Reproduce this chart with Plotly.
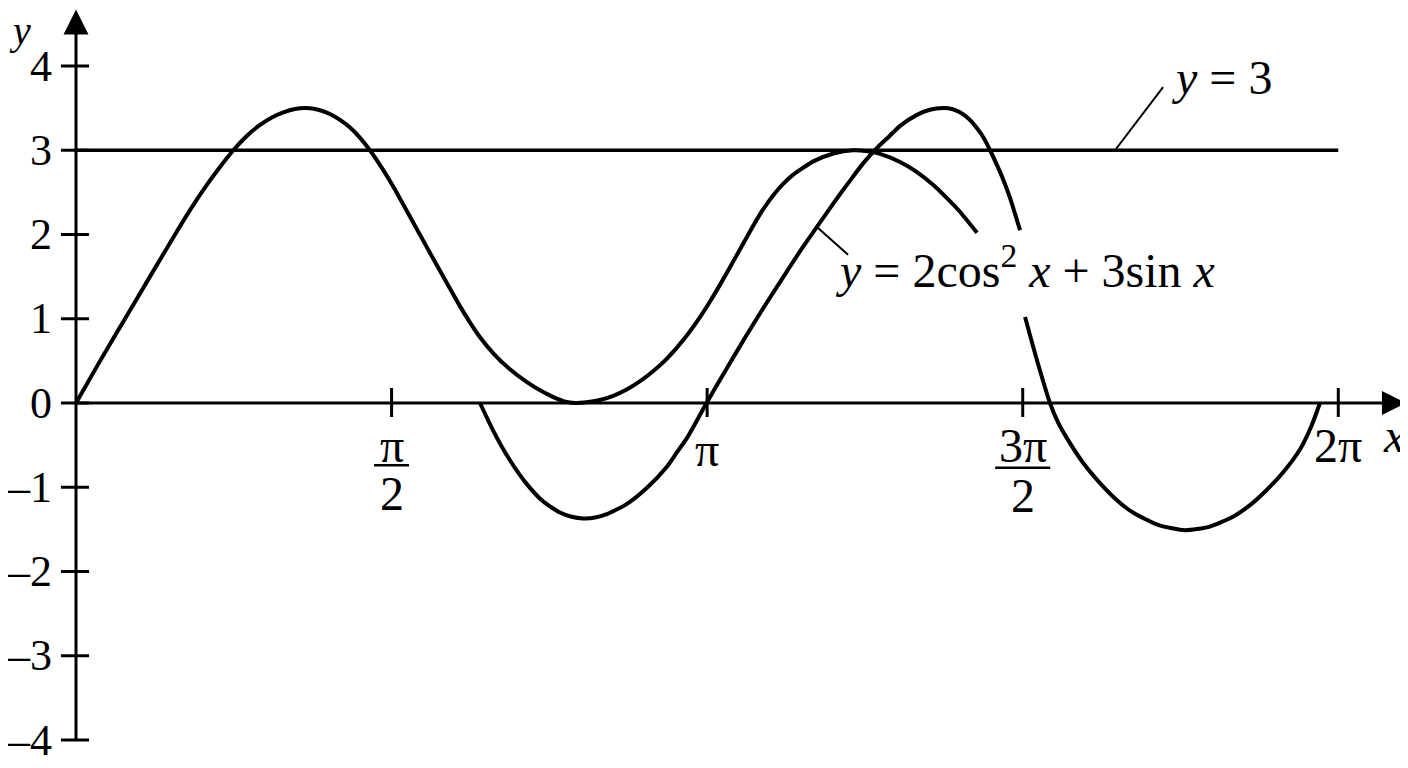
import plotly.graph_objects as go

# curve values (x in radians)
curve_a_x = [0, 0.12, 0.244, 0.368, 0.493, 0.565, 0.634, 0.71, 0.783, 0.85, 0.916, 0.975,
             1.032, 1.09, 1.148, 1.206, 1.264, 1.314, 1.364, 1.413, 1.463, 1.52, 1.579,
             1.679, 1.795, 1.911, 1.96, 2.011, 2.077, 2.16, 2.243, 2.31, 2.376, 2.43,
             2.484, 2.54, 2.608, 2.674, 2.741, 2.808, 2.874, 2.93, 2.99, 3.048, 3.106,
             3.156, 3.206, 3.289, 3.371, 3.42, 3.471, 3.52, 3.57, 3.67, 3.77, 3.869,
             3.94, 4.002, 4.102, 4.186, 4.266, 4.34, 4.40, 4.485]
curve_a_y = [0, 0.50, 1.00, 1.50, 2.00, 2.28, 2.53, 2.78, 3.00, 3.17, 3.30, 3.39,
             3.45, 3.49, 3.50, 3.48, 3.43, 3.36, 3.27, 3.15, 3.00, 2.80, 2.57,
             2.14, 1.64, 1.15, 0.96, 0.78, 0.59, 0.40, 0.25, 0.15, 0.07, 0.02,
             0.0, 0.008, 0.035, 0.085, 0.16, 0.26, 0.38, 0.50, 0.655, 0.825, 1.02,
             1.205, 1.405, 1.755, 2.105, 2.297, 2.466, 2.60, 2.71, 2.868, 2.962, 3.00,
             2.988, 2.957, 2.86, 2.74, 2.59, 2.42, 2.27, 2.02]

curve_b1_x = [2.011, 2.077, 2.16, 2.243, 2.326, 2.409, 2.467, 2.525, 2.584, 2.642, 2.741,
              2.841, 2.94, 2.99, 3.04, 3.09, 3.139, 3.239, 3.339, 3.438, 3.538, 3.612,
              3.688, 3.77, 3.853, 3.92, 3.992, 4.05, 4.102, 4.186, 4.25, 4.316, 4.36,
              4.40, 4.445, 4.485, 4.52, 4.55, 4.585, 4.614, 4.65, 4.699]
curve_b1_y = [0, -0.33, -0.68, -0.96, -1.17, -1.30, -1.35, -1.37, -1.36, -1.32, -1.20,
              -1.01, -0.76, -0.59, -0.42, -0.21, 0, 0.41, 0.81, 1.19, 1.56, 1.83,
              2.09, 2.37, 2.64, 2.85, 3.04, 3.17, 3.29, 3.42, 3.48, 3.50, 3.49,
              3.45, 3.37, 3.26, 3.14, 3.00, 2.82, 2.66, 2.43, 2.05]

curve_b2_x = [4.724, 4.783, 4.848, 4.89, 4.933, 5.01, 5.097, 5.18, 5.261, 5.39, 5.52,
              5.64, 5.759, 5.85, 5.928, 6.01, 6.093, 6.15, 6.192]
curve_b2_y = [1.02, 0.51, 0, -0.24, -0.42, -0.70, -0.95, -1.15, -1.30, -1.45, -1.51,
              -1.47, -1.35, -1.20, -1.03, -0.82, -0.55, -0.27, 0]

line_y = 3
line_x = [0, 6.2832]

y_ticks = [-4, -3, -2, -1, 0, 1, 2, 3, 4]
y_tick_labels = ['\u20134', '\u20133', '\u20132', '\u20131', '0', '1', '2', '3', '4']
x_ticks = [1.5708, 3.1416, 4.7124, 6.2832]

FONT = 'Liberation Serif, Times New Roman, serif'
BLACK = 'black'

fig = go.Figure()

# curves
for xs, ys in [(curve_a_x, curve_a_y), (curve_b1_x, curve_b1_y), (curve_b2_x, curve_b2_y)]:
    fig.add_trace(go.Scatter(x=xs, y=ys, mode='lines',
                             line=dict(color=BLACK, width=4, shape='spline', smoothing=0.6)))

# y = 3
fig.add_trace(go.Scatter(x=line_x, y=[line_y, line_y], mode='lines', line=dict(color=BLACK, width=3.5)))

# axes with arrow heads
fig.add_trace(go.Scatter(x=[0, 6.55], y=[0, 0], mode='lines', line=dict(color=BLACK, width=3)))
fig.add_trace(go.Scatter(x=[0, 0], y=[-4, 4.45], mode='lines', line=dict(color=BLACK, width=3)))
fig.add_trace(go.Scatter(x=[6.62], y=[0], mode='markers', cliponaxis=False,
                         marker=dict(symbol='arrow-right', size=24, color=BLACK, line=dict(width=0))))
fig.add_trace(go.Scatter(x=[0], y=[4.67], mode='markers', cliponaxis=False,
                         marker=dict(symbol='arrow-up', size=25, color=BLACK, line=dict(width=0))))

# tick marks
for t in y_ticks:
    fig.add_shape(type='line', x0=-0.075, x1=0.065, y0=t, y1=t, line=dict(color=BLACK, width=3))
for t in x_ticks:
    fig.add_shape(type='line', x0=t, x1=t, y0=0.178, y1=-0.166, line=dict(color=BLACK, width=3))

# tick labels
for t, lab in zip(y_ticks, y_tick_labels):
    fig.add_annotation(x=-0.1195, y=t, text=lab, showarrow=False, xanchor='right', yanchor='middle',
                       borderpad=0, borderwidth=0, font=dict(family=FONT, size=44, color=BLACK))

fig.add_annotation(x=x_ticks[0], y=-0.50, text='\u03c0', showarrow=False)
fig.add_annotation(x=x_ticks[0], y=-1.07, text='2', showarrow=False)
fig.add_shape(type='line', x0=x_ticks[0] - 0.087, x1=x_ticks[0] + 0.087, y0=-0.74, y1=-0.74,
              line=dict(color=BLACK, width=2.5))
fig.add_annotation(x=x_ticks[1], y=-0.55, text='\u03c0', showarrow=False)
fig.add_annotation(x=x_ticks[2], y=-0.50, text='3\u03c0', showarrow=False)
fig.add_annotation(x=x_ticks[2], y=-1.10, text='2', showarrow=False)
fig.add_shape(type='line', x0=x_ticks[2] - 0.137, x1=x_ticks[2] + 0.137, y0=-0.77, y1=-0.77,
              line=dict(color=BLACK, width=2.5))
fig.add_annotation(x=x_ticks[3], y=-0.50, text='2\u03c0', showarrow=False)

# axis titles
fig.add_annotation(x=6.56, y=-0.38, text='<i>x</i>', showarrow=False)
fig.add_annotation(x=-0.279, y=4.6884, text='<i>y</i>', showarrow=False, yanchor='top',
                   borderpad=0, borderwidth=0, font=dict(family=FONT, size=40, color=BLACK))

# curve labels with leader lines
fig.add_shape(type='line', x0=5.172, y0=3.0, x1=5.411, y1=3.75, line=dict(color=BLACK, width=2))
fig.add_annotation(x=5.44, y=3.86, text='<i>y</i> = 3', showarrow=False, xanchor='left')
fig.add_shape(type='line', x0=3.688, y0=2.09, x1=3.843, y1=1.76, line=dict(color=BLACK, width=2))
fig.add_annotation(x=3.768, y=1.62, text='<i>y</i> = 2cos<sup>2</sup> <i>x</i> + 3sin <i>x</i>',
                   showarrow=False, xanchor='left')

for ann in fig.layout.annotations:
    if ann.font.size is None:
        ann.font = dict(family=FONT, size=48, color=BLACK)

# page body adds an 8 px margin, so the figure is 1400x760 and the ranges allow for it
fig.update_layout(
    width=1400,
    height=760,
    margin=dict(l=0, r=0, t=0, b=0),
    paper_bgcolor='white',
    plot_bgcolor='white',
    showlegend=False,
    xaxis=dict(visible=False, range=[-0.3385, 6.6302]),
    yaxis=dict(visible=False, range=[-4.3323, 4.6884]),
    hovermode=False,
)

fig.write_html('out.html')
